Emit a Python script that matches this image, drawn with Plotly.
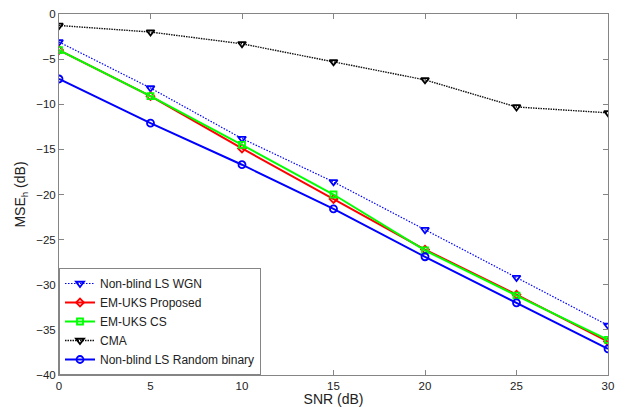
import plotly.graph_objects as go

snr = [0, 5, 10, 15, 20, 25, 30]

ls_wgn = [-3.1, -8.2, -13.8, -18.6, -23.9, -29.2, -34.5]
em_uks_proposed = [-4.0, -9.1, -14.9, -20.5, -26.1, -31.1, -36.3]
em_uks_cs = [-4.0, -9.1, -14.5, -20.0, -26.2, -31.2, -36.1]
cma = [-1.27, -2.0, -3.3, -5.3, -7.3, -10.3, -10.95]
ls_random_binary = [-7.2, -12.1, -16.7, -21.6, -26.9, -32.0, -37.1]

x_ticks = [0, 5, 10, 15, 20, 25, 30]
y_ticks = [0, -5, -10, -15, -20, -25, -30, -35, -40]

font_family = "Liberation Sans, Arial, sans-serif"
axis_grey = "#858585"
text_color = "#222222"

fig = go.Figure()

fig.add_trace(go.Scatter(
    x=snr, y=ls_wgn, name="Non-blind LS WGN", mode="lines+markers",
    line=dict(color="#0000FF", width=1.2, dash="1.5px,1.5px"),
    marker=dict(symbol="triangle-down-open", size=7, color="#0000FF",
                line=dict(width=1.8, color="#0000FF")),
))
fig.add_trace(go.Scatter(
    x=snr, y=em_uks_proposed, name="EM-UKS Proposed", mode="lines+markers",
    line=dict(color="#FF0000", width=2),
    marker=dict(symbol="diamond-open", size=6, color="#FF0000",
                line=dict(width=1.8, color="#FF0000")),
))
fig.add_trace(go.Scatter(
    x=snr, y=em_uks_cs, name="EM-UKS CS", mode="lines+markers",
    line=dict(color="#00FF00", width=2),
    marker=dict(symbol="square-open", size=6, color="#00FF00",
                line=dict(width=1.8, color="#00FF00")),
))
fig.add_trace(go.Scatter(
    x=snr, y=cma, name="CMA", mode="lines+markers",
    line=dict(color="#111111", width=1.4, dash="1.5px,1px"),
    marker=dict(symbol="triangle-down-open", size=7, color="#000000",
                line=dict(width=1.8, color="#000000")),
))
fig.add_trace(go.Scatter(
    x=snr, y=ls_random_binary, name="Non-blind LS Random binary", mode="lines+markers",
    line=dict(color="#0000FF", width=2),
    marker=dict(symbol="circle-open", size=7, color="#0000FF",
                line=dict(width=1.8, color="#0000FF")),
))

axis_common = dict(
    showgrid=False, zeroline=False, showline=True, linecolor=axis_grey, linewidth=1,
    mirror="ticks", ticks="inside", ticklen=5, tickcolor=axis_grey, tickwidth=1,
    tickfont=dict(family=font_family, size=11.5, color=text_color),
    automargin=False,
)

fig.update_layout(
    width=627, height=407,
    margin=dict(l=59, r=19, t=14, b=32),
    paper_bgcolor="white", plot_bgcolor="white",
    font=dict(family=font_family, size=12, color=text_color),
    xaxis=dict(range=[0, 30], tickvals=x_ticks,
               title=dict(text="SNR (dB)", standoff=1,
                          font=dict(family=font_family, size=14, color=text_color)),
               **axis_common),
    yaxis=dict(range=[-40, 0], tickvals=y_ticks,
               title=dict(text="MSE<sub>h</sub> (dB)", standoff=7,
                          font=dict(family=font_family, size=14, color=text_color)),
               **axis_common),
    legend=dict(
        x=0, y=0, xanchor="left", yanchor="bottom",
        bgcolor="white", bordercolor=axis_grey, borderwidth=1,
        font=dict(family=font_family, size=12, color=text_color),
        tracegroupgap=0, itemwidth=30,
    ),
    showlegend=True,
)

fig.write_html("out.html")
